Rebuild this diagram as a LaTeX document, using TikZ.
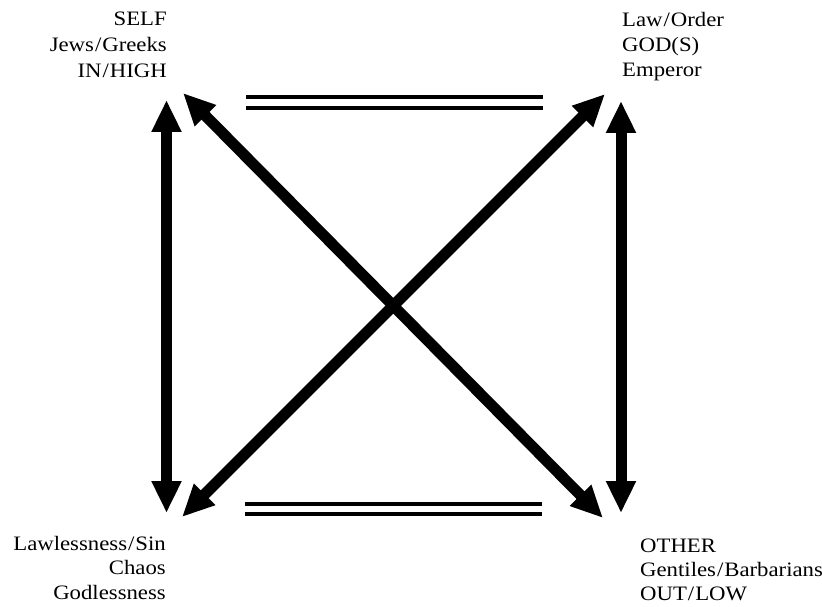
\documentclass[tikz,border=0pt]{standalone}
\usepackage{fontspec}
\setmainfont{Liberation Serif}[FakeStretch=1.11]
\usetikzlibrary{arrows.meta}
\newcommand{\myslash}{\kern1pt/\kern1pt}
\begin{document}
\begin{tikzpicture}[x=1pt,y=-1pt,
  lbl/.style={inner sep=0pt,font=\fontsize{20.5}{26}\selectfont},
  lblR/.style={lbl,anchor=base east},
  lblL/.style={lbl,anchor=base west},
  bigarrow/.style={line width=11pt,{Triangle[length=32pt,width=28pt]}-{Triangle[length=32pt,width=28pt]}},
  eqline/.style={line width=3.5pt}]
\useasboundingbox (0,0) rectangle (822,607);
% labels
\node[lblR] (tl1) at (167,25.5) {SELF};
\node[lblR] (tl2) at (167,51.5) {Jews\myslash Greeks};
\node[lblR] (tl3) at (167,77.5) {IN\myslash HIGH};
\node[lblL] (tr1) at (622,26.5) {Law\myslash Order};
\node[lblL] (tr2) at (622,51.5) {GOD(S)};
\node[lblL] (tr3) at (622,76.5) {Emperor};
\node[lblR] (bl1) at (166,550) {Lawlessness\myslash Sin};
\node[lblR] (bl2) at (166,574) {Chaos};
\node[lblR] (bl3) at (166,599) {Godlessness};
\node[lblL] (br1) at (640,552) {OTHER};
\node[lblL] (br2) at (640,576) {Gentiles\myslash Barbarians};
\node[lblL] (br3) at (640,600) {OUT\myslash LOW};
% arrow end points
\coordinate (Lt) at (166.5,100);
\coordinate (Lb) at (166.5,513);
\coordinate (Rt) at (621,101);
\coordinate (Rb) at (621,513);
\coordinate (NW) at (183,93);
\coordinate (SE) at (603,518);
\coordinate (NE) at (605,94);
\coordinate (SW) at (182,517);
\draw[bigarrow] (Lt) -- (Lb);
\draw[bigarrow] (Rt) -- (Rb);
\draw[bigarrow] (NW) -- (SE);
\draw[bigarrow] (NE) -- (SW);
% double lines
\coordinate (ta1) at (246,97);  \coordinate (ta2) at (543,97);
\coordinate (tb1) at (246,108); \coordinate (tb2) at (543,108);
\coordinate (ba1) at (245,504); \coordinate (ba2) at (542,504);
\coordinate (bb1) at (245,514); \coordinate (bb2) at (542,514);
\draw[eqline] (ta1) -- (ta2);
\draw[eqline] (tb1) -- (tb2);
\draw[eqline] (ba1) -- (ba2);
\draw[eqline] (bb1) -- (bb2);
\end{tikzpicture}
\end{document}
